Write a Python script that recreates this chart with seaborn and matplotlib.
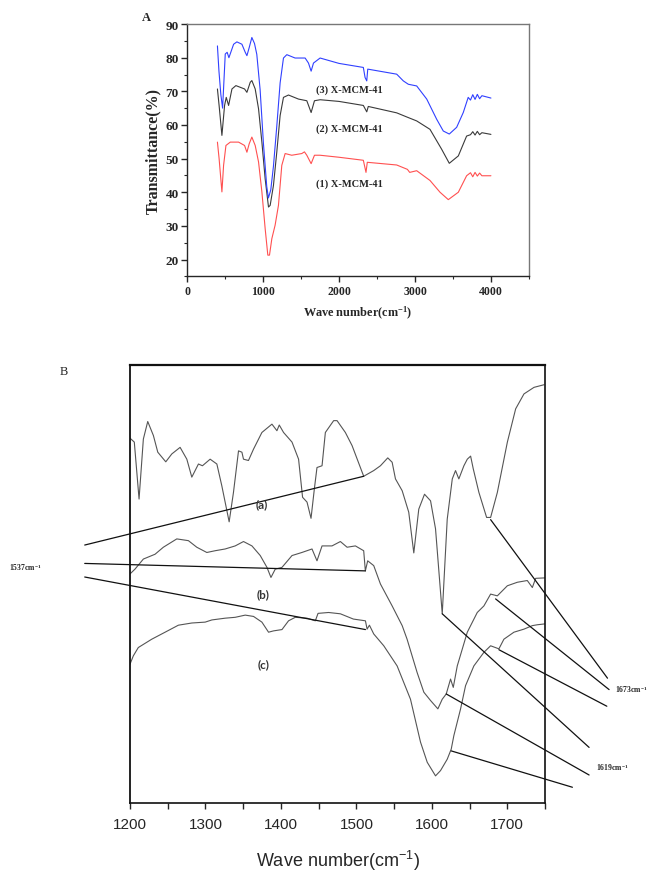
import matplotlib
matplotlib.use("Agg")
import matplotlib.pyplot as plt
import seaborn as sns
from matplotlib.ticker import MultipleLocator

# ---------------- panel A : X-MCM-41 spectra (wave number, transmittance %) ----------------
wn_1 = [400, 422, 459, 481, 512, 569, 678, 757, 788, 818, 853, 897, 941, 985, 1028, 1063, 1085,
        1116, 1159, 1203, 1247, 1291, 1378, 1510, 1545, 1576, 1633, 1677, 1750, 2000, 2320,
        2355, 2372, 2759, 2900, 2930, 3022, 3197, 3329, 3438, 3570, 3679, 3730, 3760, 3790,
        3820, 3850, 3880, 3999]
t_1 = [54.9, 50.0, 40.1, 48.0, 53.9, 54.9, 54.9, 53.9, 51.9, 54.4, 56.4, 53.9, 49.0, 40.1, 29.2,
       21.3, 21.3, 26.2, 30.2, 36.1, 48.0, 51.5, 51.0, 51.5, 52.0, 51.0, 48.5, 51.0, 51.0, 50.4,
       49.5, 45.9, 48.9, 48.1, 46.8, 45.9, 46.4, 43.5, 40.0, 37.8, 40.0, 44.9, 45.8, 44.6, 45.9,
       44.8, 45.7, 44.9, 44.9]

wn_2 = [400, 422, 459, 494, 516, 547, 591, 643, 700, 757, 788, 832, 853, 897, 941, 985, 1028,
        1072, 1094, 1137, 1181, 1225, 1269, 1335, 1466, 1576, 1633, 1677, 1752, 2000, 2320,
        2365, 2385, 2759, 2900, 3022, 3197, 3350, 3451, 3570, 3679, 3730, 3760, 3790, 3820,
        3850, 3880, 3999]
t_2 = [70.7, 65.8, 56.9, 65.8, 68.2, 65.8, 70.7, 71.7, 71.2, 70.7, 69.7, 72.7, 73.2, 70.7, 64.8,
       54.9, 44.0, 35.6, 36.1, 42.0, 51.9, 62.8, 68.2, 68.9, 67.7, 67.2, 63.7, 67.2, 67.5, 67.0,
       65.8, 63.9, 65.5, 63.6, 62.3, 61.2, 58.7, 52.8, 48.6, 50.8, 56.7, 57.1, 58.0, 57.0, 58.1,
       57.1, 57.7, 57.2]

wn_3 = [400, 420, 445, 468, 503, 528, 551, 613, 656, 722, 766, 788, 818, 853, 888, 918, 962,
        1005, 1049, 1071, 1102, 1137, 1181, 1225, 1269, 1313, 1422, 1554, 1598, 1633, 1664,
        1751, 2000, 2320, 2343, 2365, 2378, 2759, 2846, 2912, 3022, 3154, 3285, 3372, 3451,
        3548, 3635, 3700, 3730, 3760, 3790, 3820, 3850, 3880, 3999]
t_3 = [83.5, 76.0, 69.0, 65.0, 81.1, 81.6, 80.0, 84.0, 84.7, 84.0, 81.6, 80.6, 83.0, 86.0, 84.2,
       81.0, 70.4, 54.6, 41.7, 38.3, 40.7, 47.7, 59.6, 72.5, 79.9, 80.9, 79.9, 79.9, 78.4, 76.0,
       78.4, 79.9, 78.3, 77.1, 74.1, 73.1, 76.6, 75.1, 73.1, 72.1, 71.6, 67.7, 61.7, 58.2, 57.3,
       59.3, 63.7, 68.2, 67.4, 69.0, 67.6, 69.1, 67.8, 68.7, 68.0]

series_a = [("(1) X-MCM-41", wn_1, t_1, "#ff5050"),
            ("(2) X-MCM-41", wn_2, t_2, "#3a3a3a"),
            ("(3) X-MCM-41", wn_3, t_3, "#3040ff")]
label_pos_a = [(2140, 42.6), (2140, 59.0), (2140, 70.7)]

# ---------------- panel B : 1200-1750 cm-1 region (arbitrary transmittance) ----------------
wn_a = [1200, 1205.7, 1212, 1217.7, 1223.5, 1231, 1236.8, 1247.4, 1255.4, 1266.4, 1275.3, 1281.9,
        1290.7, 1296, 1306.2, 1315.1, 1321.7, 1331.4, 1337.1, 1343.8, 1348.3, 1350.4, 1357,
        1363.7, 1374.8, 1388.1, 1394.7, 1397.8, 1403.5, 1414.7, 1423.4, 1428.7, 1434.6, 1439.9,
        1444.3, 1447.8, 1454.5, 1458.9, 1469.9, 1474.4, 1485.4, 1494.3, 1509.7, 1523, 1531.9,
        1541.6, 1547.4, 1551.8, 1560.7, 1569.4, 1576.1, 1582.7, 1590.3, 1598.3, 1604.9, 1613.8,
        1620.4, 1627.1, 1631.4, 1635.8, 1642.5, 1647, 1651.4, 1654.9, 1662.4, 1672.6, 1677.9,
        1686.8, 1700.1, 1711.1, 1722.1, 1735.4, 1748.7]
t_a = [83.3, 82.4, 69.4, 83.1, 87.1, 83.9, 80.1, 77.9, 79.7, 81.2, 78.5, 74.4,
       77.4, 77.0, 78.5, 77.4, 72.4, 64.2, 70.9, 80.4, 80.1, 78.5, 78.2,
       80.8, 84.6, 86.5, 85.0, 86.3, 84.6, 82.4, 78.5, 69.8, 68.7, 65.0,
       71.7, 76.6, 77.0, 84.6, 87.3, 87.3, 84.6, 81.6, 74.6, 75.9, 77.0,
       78.8, 77.8, 74.0, 71.3, 66.4, 57.1, 67.1, 70.5, 69.0, 62.6, 43.2,
       64.8, 74.0, 75.9, 74.0, 77.0, 78.5, 79.2, 76.3, 70.9, 65.2, 65.2,
       70.9, 82.4, 90.0, 93.4, 94.9, 95.5]

wn_b = [1200, 1206.6, 1217.7, 1233.2, 1244.2, 1262, 1277.4, 1288.5, 1301.8, 1312.8, 1326.1, 1339.4,
        1350.4, 1361.6, 1372.6, 1381.5, 1386.8, 1392.5, 1401.4, 1414.7, 1427.8, 1441.2, 1447.8,
        1454.5, 1467.7, 1478.8, 1487.7, 1498.7, 1509.7, 1511.9, 1515, 1523, 1531.9, 1547.4,
        1560.7, 1567.2, 1580.5, 1589.4, 1598.3, 1608, 1613.8, 1619.1, 1624.8, 1628.4, 1633.7,
        1647, 1660.2, 1669, 1677.9, 1686.8, 1700.1, 1713.3, 1726.5, 1733.2, 1737.6, 1750]
t_b = [52.3, 53.4, 55.7, 56.8, 58.4, 60.3, 59.9, 58.4, 57.2, 57.6, 58.0, 58.7,
       59.7, 58.7, 56.5, 53.8, 51.5, 53.4, 53.8, 56.5, 57.2, 58.0, 55.3,
       58.7, 58.7, 59.7, 58.4, 58.7, 57.6, 53.0, 55.3, 54.2, 50.0, 45.0,
       40.5, 37.4, 29.8, 25.3, 23.4, 21.5, 23.7, 24.9, 28.3, 26.4, 31.3,
       39.0, 43.5, 45.0, 47.7, 47.3, 49.6, 50.4, 50.8, 49.2, 51.3, 51.4]

wn_c = [1200, 1204.4, 1211, 1228.8, 1246.5, 1264.1, 1281.9, 1299.6, 1308.5, 1326.1, 1339.4, 1352.7,
        1363.7, 1374.8, 1383.6, 1390.2, 1401.4, 1410.1, 1419, 1434.6, 1445.6, 1449.2, 1463.2,
        1478.8, 1496, 1512, 1514.2, 1517.3, 1523, 1536.3, 1554, 1571.7, 1585, 1593.9, 1604.9,
        1611.5, 1620.4, 1625.7, 1629.2, 1638.1, 1644.7, 1655.7, 1669, 1677.9, 1688.9, 1695.5,
        1708.8, 1722.1, 1733.2, 1739.9, 1750]
t_c = [31.7, 33.6, 35.5, 37.4, 39.0, 40.6, 41.1, 41.3, 41.8, 42.2, 42.4, 42.9,
       42.6, 41.3, 39.0, 39.3, 39.6, 41.6, 42.4, 42.2, 41.6, 43.3, 43.5,
       43.2, 42.0, 41.6, 39.7, 40.6, 38.6, 35.9, 31.3, 23.7, 13.9, 9.3, 6.2,
       7.4, 10.0, 12.3, 15.4, 21.5, 26.8, 31.3, 34.4, 35.9, 35.2, 37.4,
       39.0, 39.7, 40.5, 40.7, 40.9]

curve_labels_b = ["(a)", "(b)", "(c)"]
curve_label_pos_b = [(1374, 68.3), (1376, 47.7), (1377, 31.8)]

# peak-marker lines: (from wn, from t) -> (to wn, to t)
marks_1537 = [((1140, 58.9), (1509.7, 74.6)),
              ((1140, 54.7), (1512, 53.0)),
              ((1140, 51.6), (1512, 39.6))]
marks_1673 = [((1677.9, 64.7), (1832.8, 28.5)),
              ((1684.5, 46.6), (1834.9, 25.9)),
              ((1688.9, 35.0), (1831.9, 22.1))]
marks_1619 = [((1613.8, 43.2), (1808.4, 12.7)),
              ((1619.1, 24.9), (1808.4, 6.4)),
              ((1625.7, 11.9), (1786.3, 3.6))]
peak_labels = [("1537cm$^{-1}$", 1040, 54.1), ("1673cm$^{-1}$", 1843, 26.2), ("1619cm$^{-1}$", 1818, 8.4)]

sns.set_style("ticks")
plt.rcParams["mathtext.default"] = "regular"
plt.rcParams["font.family"] = ["Liberation Serif", "DejaVu Serif"]

fig = plt.figure(figsize=(6.51, 8.79), dpi=100)

# ---- panel A ----
axA = fig.add_axes([0.2873, 0.6845, 0.5253, 0.2870])
for name, x, y, col in series_a:
    sns.lineplot(x=x, y=y, ax=axA, color=col, lw=0.8, estimator=None, sort=False)
for (name, x, y, col), (lx, ly) in zip(series_a, label_pos_a):
    axA.text(lx, ly, name, ha="center", va="center", fontsize=7.5, fontweight="bold")
axA.set_xlim(0, 4500)
axA.set_ylim(15, 90)
axA.xaxis.set_major_locator(MultipleLocator(1000))
axA.xaxis.set_minor_locator(MultipleLocator(500))
axA.yaxis.set_minor_locator(MultipleLocator(5))
axA.set_yticks(range(20, 91, 10))
axA.tick_params(which="major", direction="out", length=4, width=1, pad=2)
axA.tick_params(which="minor", direction="out", length=2.5, width=0.8)
axA.tick_params(axis="x", labelsize=8.5)
axA.tick_params(axis="y", labelsize=9.5)
for lab in axA.get_xticklabels() + axA.get_yticklabels():
    lab.set_fontweight("bold")
for side in ("top", "right"):
    axA.spines[side].set_visible(True)
    axA.spines[side].set_color("#777777")
    axA.spines[side].set_linewidth(1.0)
axA.spines["left"].set_linewidth(1.0)
axA.spines["bottom"].set_linewidth(1.0)
axA.set_xlabel("Wave number(cm$^{-1}$)", fontsize=8.8, fontweight="bold", labelpad=5)
axA.set_ylabel("Transmittance(%)", fontsize=11.5, fontweight="bold", labelpad=3)
fig.text(146 / 651, 1 - 18 / 879, "A", fontsize=9, fontweight="bold", ha="center", va="center")

# ---- panel B ----
axB = fig.add_axes([0.1997, 0.0853, 0.6375, 0.4983])
for x, y in [(wn_a, t_a), (wn_b, t_b), (wn_c, t_c)]:
    sns.lineplot(x=x, y=y, ax=axB, color="#555555", lw=0.8, estimator=None, sort=False)
for group in (marks_1537, marks_1673, marks_1619):
    for (x0, y0), (x1, y1) in group:
        axB.plot([x0, x1], [y0, y1], color="#111111", lw=0.9, clip_on=False)
for lab, (lx, ly) in zip(curve_labels_b, curve_label_pos_b):
    axB.text(lx, ly, lab, ha="center", va="center", fontsize=8.5, family="Lato",
             fontweight="bold", color="#333333")
for lab, lx, ly in peak_labels:
    axB.text(lx, ly, lab, ha="left", va="center", fontsize=5.5, fontweight="bold", clip_on=False)
axB.set_xlim(1200, 1750)
axB.set_ylim(0, 100)
axB.set_yticks([])
axB.xaxis.set_major_locator(MultipleLocator(100))
axB.xaxis.set_minor_locator(MultipleLocator(50))
axB.tick_params(which="both", axis="x", direction="out", length=4, width=1, pad=6)
for lab in axB.get_xticklabels():
    lab.set_family(["Liberation Sans", "DejaVu Sans"])
    lab.set_fontsize(11)
for side, w in [("top", 1.6), ("left", 1.3), ("right", 1.2), ("bottom", 1.2)]:
    axB.spines[side].set_visible(True)
    axB.spines[side].set_linewidth(w)
    axB.spines[side].set_color("#111111")
axB.set_xlabel("Wave number(cm$^{-1}$)", fontsize=13, family=["Liberation Sans", "DejaVu Sans"],
               labelpad=12)
axB.set_ylabel("")
fig.text(64 / 651, 1 - 372 / 879, "B", fontsize=9, ha="center", va="center")

fig.savefig("out.png", dpi=100, facecolor="white")
